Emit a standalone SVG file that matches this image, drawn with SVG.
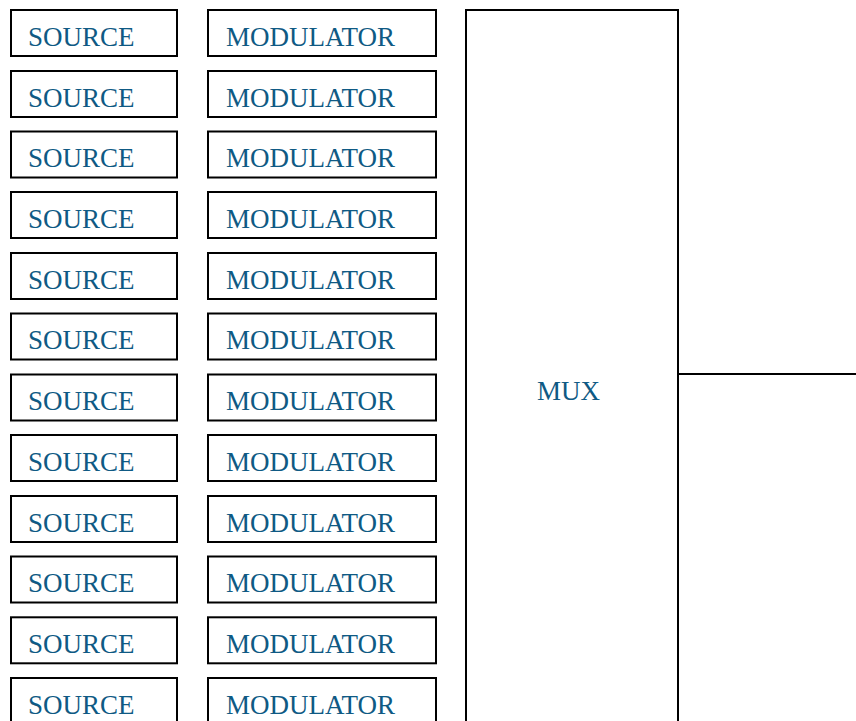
<svg xmlns="http://www.w3.org/2000/svg" width="856" height="721" viewBox="0 0 856 721">
<style>
rect{fill:#fff;stroke:#000;stroke-width:2}
text{font-family:"Liberation Serif","Times New Roman",serif;font-size:27px;fill:#0f5a84}
line{stroke:#000;stroke-width:2}
</style>
<rect x="0" y="0" width="856" height="721" style="stroke:none"/>
<g id="mux"><rect x="466" y="10" width="212" height="730"/><text x="537" y="400">MUX</text></g>
<g id="connectors"><line x1="678" y1="374" x2="856" y2="374"/></g>
<g id="src1"><rect x="11" y="10" width="166" height="46"/><text x="28" y="45.5">SOURCE</text></g>
<g id="mod1"><rect x="208" y="10" width="228" height="46"/><text x="226" y="45.5">MODULATOR</text></g>
<g id="src2"><rect x="11" y="71" width="166" height="46"/><text x="28" y="106.5">SOURCE</text></g>
<g id="mod2"><rect x="208" y="71" width="228" height="46"/><text x="226" y="106.5">MODULATOR</text></g>
<g id="src3"><rect x="11" y="131.5" width="166" height="46"/><text x="28" y="167">SOURCE</text></g>
<g id="mod3"><rect x="208" y="131.5" width="228" height="46"/><text x="226" y="167">MODULATOR</text></g>
<g id="src4"><rect x="11" y="192" width="166" height="46"/><text x="28" y="227.5">SOURCE</text></g>
<g id="mod4"><rect x="208" y="192" width="228" height="46"/><text x="226" y="227.5">MODULATOR</text></g>
<g id="src5"><rect x="11" y="253" width="166" height="46"/><text x="28" y="288.5">SOURCE</text></g>
<g id="mod5"><rect x="208" y="253" width="228" height="46"/><text x="226" y="288.5">MODULATOR</text></g>
<g id="src6"><rect x="11" y="313.5" width="166" height="46"/><text x="28" y="349">SOURCE</text></g>
<g id="mod6"><rect x="208" y="313.5" width="228" height="46"/><text x="226" y="349">MODULATOR</text></g>
<g id="src7"><rect x="11" y="374.5" width="166" height="46"/><text x="28" y="410">SOURCE</text></g>
<g id="mod7"><rect x="208" y="374.5" width="228" height="46"/><text x="226" y="410">MODULATOR</text></g>
<g id="src8"><rect x="11" y="435" width="166" height="46"/><text x="28" y="470.5">SOURCE</text></g>
<g id="mod8"><rect x="208" y="435" width="228" height="46"/><text x="226" y="470.5">MODULATOR</text></g>
<g id="src9"><rect x="11" y="496" width="166" height="46"/><text x="28" y="531.5">SOURCE</text></g>
<g id="mod9"><rect x="208" y="496" width="228" height="46"/><text x="226" y="531.5">MODULATOR</text></g>
<g id="src10"><rect x="11" y="556.5" width="166" height="46"/><text x="28" y="592">SOURCE</text></g>
<g id="mod10"><rect x="208" y="556.5" width="228" height="46"/><text x="226" y="592">MODULATOR</text></g>
<g id="src11"><rect x="11" y="617.3" width="166" height="46"/><text x="28" y="653">SOURCE</text></g>
<g id="mod11"><rect x="208" y="617.3" width="228" height="46"/><text x="226" y="653">MODULATOR</text></g>
<g id="src12"><rect x="11" y="678" width="166" height="46"/><text x="28" y="713.5">SOURCE</text></g>
<g id="mod12"><rect x="208" y="678" width="228" height="46"/><text x="226" y="713.5">MODULATOR</text></g>
</svg>
